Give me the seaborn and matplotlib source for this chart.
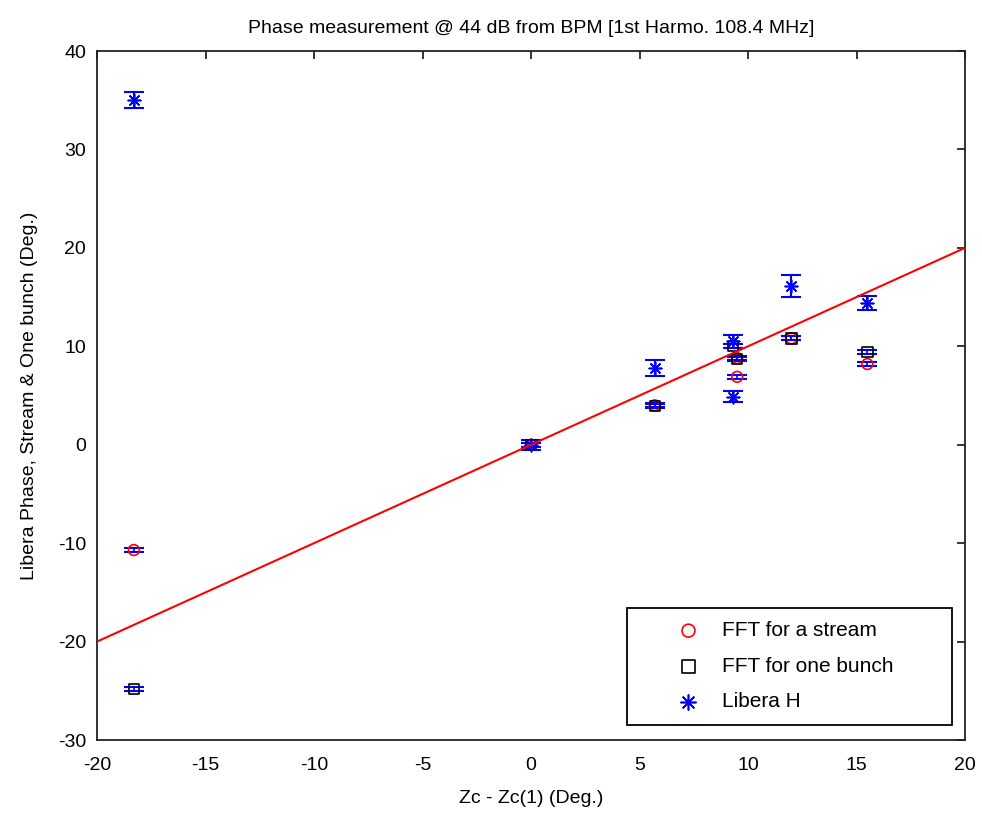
import numpy as np
import pandas as pd
import matplotlib
matplotlib.use("Agg")
import matplotlib.pyplot as plt
import seaborn as sns

# data
stream_x = [-18.3, 0.0, 5.7, 9.5, 9.5, 12.0, 15.5]
stream_y = [-10.7, 0.0, 4.0, 8.8, 6.9, 10.8, 8.2]
stream_err = [0.2, 0.2, 0.2, 0.2, 0.2, 0.2, 0.2]

bunch_x = [-18.3, 0.0, 5.7, 9.3, 9.5, 12.0, 15.5]
bunch_y = [-24.8, 0.0, 3.9, 10.0, 8.7, 10.8, 9.4]
bunch_err = [0.2, 0.2, 0.2, 0.2, 0.2, 0.2, 0.2]

libera_x = [-18.3, 0.0, 5.7, 9.3, 9.3, 12.0, 15.5]
libera_y = [35.0, 0.0, 7.8, 10.5, 4.9, 16.1, 14.4]
libera_err = [0.8, 0.5, 0.85, 0.65, 0.6, 1.1, 0.7]

fit_x = [-20, 20]
fit_y = [-20, 20]

sns.set_style("white")
plt.rcParams['font.family'] = ['Liberation Sans', 'DejaVu Sans']
plt.rcParams['axes.unicode_minus'] = False
plt.rcParams['text.color'] = 'black'
plt.rcParams['axes.labelcolor'] = 'black'

fig = plt.figure(figsize=(9.82, 8.15), dpi=100)
ax = fig.add_axes([0.0988, 0.092, 0.8839, 0.8454])

# small error bars on FFT points
ax.errorbar(stream_x, stream_y, yerr=stream_err, fmt='none', ecolor='blue',
            elinewidth=1.2, capsize=7, capthick=1.5, zorder=3)
ax.errorbar(bunch_x, bunch_y, yerr=bunch_err, fmt='none', ecolor='blue',
            elinewidth=1.2, capsize=7, capthick=1.5, zorder=3)
ax.errorbar(libera_x, libera_y, yerr=libera_err, fmt='none', ecolor='blue',
            elinewidth=1.5, capsize=7.5, capthick=1.5, zorder=3)

sns.scatterplot(x=stream_x, y=stream_y, ax=ax, marker='o', s=60,
                facecolors='none', edgecolor='red', linewidth=1.2,
                label='FFT for a stream', zorder=4)
sns.scatterplot(x=bunch_x, y=bunch_y, ax=ax, marker='s', s=55,
                facecolors='none', edgecolor='black', linewidth=1.2,
                label='FFT for one bunch', zorder=4)
sns.scatterplot(x=libera_x, y=libera_y, ax=ax, marker=(8, 2, 0), s=80,
                color='blue', linewidth=1.2, label='Libera H', zorder=5)

# fitted line (drawn on top, as in the reference)
sns.lineplot(x=fit_x, y=fit_y, ax=ax, color='red', linewidth=1.5, legend=False,
             zorder=6)

ax.set_xlim(-20, 20)
ax.set_ylim(-30, 40)
ax.set_xticks(np.arange(-20, 21, 5))
ax.set_yticks(np.arange(-30, 41, 10))
ax.tick_params(direction='in', length=6, width=1.1, labelsize=14, pad=8,
               top=True, right=True, colors='black')
ax.tick_params(axis='x', pad=12)
for s in ax.spines.values():
    s.set_color('#222222')
    s.set_linewidth(1.3)

ax.set_xlabel('Zc - Zc(1) (Deg.)', fontsize=14, labelpad=12)
ax.set_ylabel('Libera Phase, Stream & One bunch (Deg.)', fontsize=14, labelpad=14)
ax.set_title('Phase measurement @ 44 dB from BPM [1st Harmo. 108.4 MHz]',
             fontsize=14, pad=13)

leg = ax.legend(loc='lower left', bbox_to_anchor=(0.6106, 0.0218, 0.374, 0.174),
                mode='expand', fontsize=15, frameon=True, fancybox=False,
                borderaxespad=0, borderpad=0.65, handlelength=4.6,
                handletextpad=-0.7, labelspacing=0.8, markerscale=1.2)
leg.get_frame().set_edgecolor('black')
leg.get_frame().set_linewidth(1.3)
leg.get_frame().set_alpha(1)

fig.savefig('out.png', dpi=100)
